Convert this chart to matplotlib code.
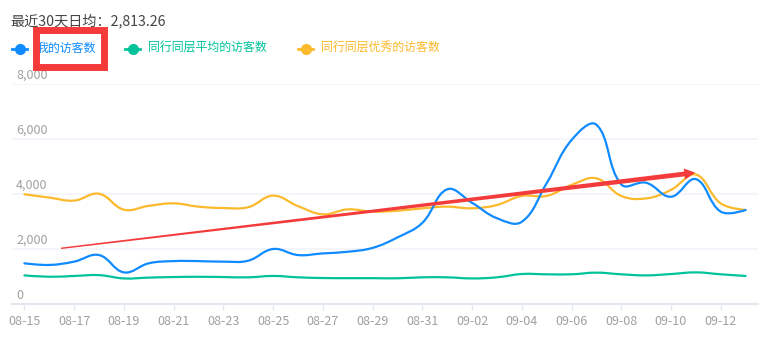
import matplotlib
matplotlib.use('Agg')
import matplotlib.pyplot as plt
from matplotlib.path import Path
from matplotlib.patches import PathPatch, Rectangle, Polygon
from matplotlib.lines import Line2D
import numpy as np

plt.rcParams['font.family'] = ['Noto Sans CJK SC', 'DejaVu Sans']

# data (30 days, 08-15 .. 09-13)
dates = ['08-15', '08-16', '08-17', '08-18', '08-19', '08-20', '08-21', '08-22',
         '08-23', '08-24', '08-25', '08-26', '08-27', '08-28', '08-29', '08-30',
         '08-31', '09-01', '09-02', '09-03', '09-04', '09-05', '09-06', '09-07',
         '09-08', '09-09', '09-10', '09-11', '09-12', '09-13']
my_visitors = [1480, 1420, 1540, 1780, 1150, 1480, 1560, 1560, 1540, 1575,
               2000, 1780, 1840, 1900, 2040, 2420, 2950, 4170, 3680, 3120,
               2990, 4390, 5960, 6520, 4350, 4410, 3900, 4540, 3360, 3420]
peer_avg = [1040, 990, 1020, 1050, 930, 960, 980, 990, 980, 970,
            1020, 970, 945, 940, 940, 935, 970, 970, 930, 970,
            1090, 1080, 1080, 1140, 1080, 1040, 1090, 1150, 1080, 1020]
peer_top = [3990, 3870, 3760, 4010, 3430, 3570, 3660, 3540, 3490, 3520,
            3940, 3560, 3260, 3440, 3360, 3390, 3480, 3540, 3480, 3600,
            3930, 3930, 4330, 4570, 3930, 3840, 4150, 4710, 3660, 3420]

series_names = ['我的访客数', '同行同层平均的访客数', '同行同层优秀的访客数']
series_colors = ['#0f8bff', '#00c39b', '#fcb92c']
title = '最近30天日均：2,813.26'
yticks = [0, 2000, 4000, 6000, 8000]

# hand-drawn annotations (day index, value)
arrow_start = (1.47, 2025)
arrow_end = (26.98, 4775)

W, H = 776, 346
fig = plt.figure(figsize=(W / 100, H / 100), dpi=100)
ax = fig.add_axes([12 / W, (H - 304) / H, (758 - 12) / W, (304 - 84) / H])
ax.set_xlim(-0.5, len(dates) - 0.5)
ax.set_ylim(0, 8000)

# scale to pixel-ish units so smoothing looks like the echarts one
sx, sy = 24.9, 220 / 8000


def smooth_path(xs, ys, smooth=0.4):
    p = np.column_stack([np.asarray(xs, float) * sx, np.asarray(ys, float) * sy])
    n = len(p)
    cp0 = p.copy()
    cp1 = p.copy()
    for i in range(1, n - 1):
        v = p[i + 1] - p[i - 1]
        d0 = np.hypot(*(p[i] - p[i - 1]))
        d1 = np.hypot(*(p[i + 1] - p[i]))
        s = d0 + d1
        cp0[i] = p[i] - v * smooth * d0 / s
        cp1[i] = p[i] + v * smooth * d1 / s
    verts = [p[0]]
    codes = [Path.MOVETO]
    for i in range(n - 1):
        verts += [cp1[i], cp0[i + 1], p[i + 1]]
        codes += [Path.CURVE4] * 3
    verts = np.array(verts) / [sx, sy]
    return Path(verts, codes)


x = np.arange(len(dates))
for vals, c in zip([peer_avg, peer_top, my_visitors], [series_colors[1], series_colors[2], series_colors[0]]):
    ax.add_patch(PathPatch(smooth_path(x, vals), facecolor='none', edgecolor=c,
                           lw=1.6, capstyle='round', joinstyle='round', zorder=3))

# grid + axes styling
for v in yticks[1:]:
    ax.axhline(v, color='#f3f4fa', lw=1.3, zorder=1)
for s in ['top', 'right', 'left']:
    ax.spines[s].set_visible(False)
ax.spines['bottom'].set_color('#e3e7ef')
ax.spines['bottom'].set_linewidth(1.5)
ax.set_yticks([])
ax.set_xticks(x[::2])
ax.set_xticklabels(dates[::2])
ax.tick_params(axis='x', length=4, width=1, color='#e3e7ef', labelcolor='#a0a0a0',
               labelsize=9, pad=4)
for v in yticks:
    ax.annotate(f'{v:,}', xy=(0, v), xycoords=('axes fraction', 'data'),
                xytext=(4, 2), textcoords='offset pixels', ha='left', va='bottom',
                color='#a0a0a0', fontsize=9)

# title
fig.text(10 / W, 1 - 21 / H, title, ha='left', va='center', fontsize=10.2, color='#444444')

# legend
leg_x = [(12, 37), (125, 148), (298, 321)]
ly = 1 - 48.5 / H
for (mx, tx), name, c in zip(leg_x, series_names, series_colors):
    fig.add_artist(Line2D([mx / W, (mx + 15) / W], [ly, ly], color=c, lw=2))
    fig.add_artist(Line2D([(mx + 7.5) / W], [ly], marker='o', ms=7, color=c, mec=c))
    fig.text(tx / W, ly, name, ha='left', va='center', fontsize=8.6, color=c)

# red tapered arrow
fig.canvas.draw()
p0 = ax.transData.transform(arrow_start)
p1 = ax.transData.transform(arrow_end)
d = (p1 - p0) / np.hypot(*(p1 - p0))
nrm = np.array([-d[1], d[0]])
head_len, head_w = 11, 5.5
base = p1 - d * head_len
poly = [p0 + nrm * 0.7, base + nrm * 2.4, base + nrm * head_w, p1,
        base - nrm * head_w, base - nrm * 2.4, p0 - nrm * 0.7]
fig.add_artist(Polygon(poly, closed=True, transform=None, facecolor='#f43b3c',
                       edgecolor='none', zorder=10))

# red box around the first legend entry
fig.add_artist(Rectangle((35.5 / W, 1 - 66.5 / H), 69 / W, 37 / H, transform=fig.transFigure,
                         fill=False, edgecolor='#f53a3a', lw=5, zorder=10))

fig.savefig('out.png', dpi=100)
